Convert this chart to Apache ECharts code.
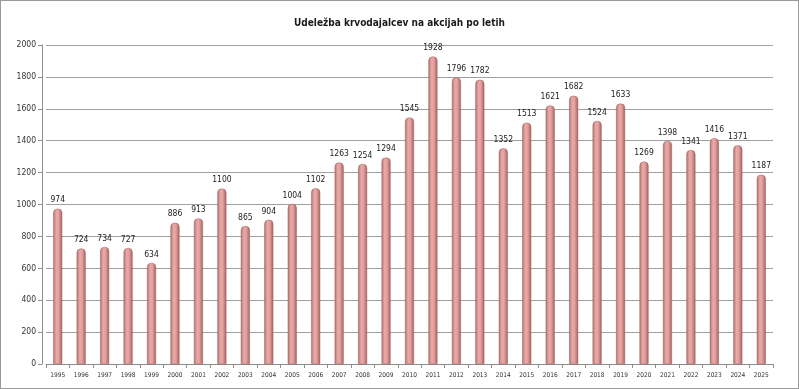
<!DOCTYPE html>
<html><head><meta charset="utf-8">
<script src="https://cdn.jsdelivr.net/npm/echarts@6/dist/echarts.min.js"></script>
<style>
html,body{margin:0;padding:0;background:#fff;}
#c{width:797px;height:387px;border:1px solid #9a9a9a;}
</style></head>
<body><div id="c"></div>
<script>
const title = 'Udeležba krvodajalcev na akcijah po letih';
const years = ['1995','1996','1997','1998','1999','2000','2001','2002','2003','2004','2005','2006','2007','2008','2009','2010','2011','2012','2013','2014','2015','2016','2017','2018','2019','2020','2021','2022','2023','2024','2025'];
const donors = [974,724,734,727,634,886,913,1100,865,904,1004,1102,1263,1254,1294,1545,1928,1796,1782,1352,1513,1621,1682,1524,1633,1269,1398,1341,1416,1371,1187];
const yTicks = [0,200,400,600,800,1000,1200,1400,1600,1800,2000];
const FONT = 'Liberation Sans Narrow, DejaVu Sans Condensed, sans-serif';

const chart = echarts.init(document.getElementById('c'), null, {renderer:'canvas'});
chart.setOption({
  animation:false,
  title:{text:title,left:'center',top:12,textStyle:{fontFamily:FONT,fontSize:10,fontWeight:'bold',color:'#1a1a1a'}},
  grid:{left:45,right:25,top:44,bottom:24},
  xAxis:{type:'category',data:years,
    axisLine:{lineStyle:{color:'#8c8c8c'}},
    axisTick:{show:true,lineStyle:{color:'#8c8c8c'},length:4},
    axisLabel:{fontFamily:FONT,fontSize:6.5,color:'#333',margin:8,interval:0}
  },
  yAxis:{type:'value',min:yTicks[0],max:yTicks[yTicks.length-1],interval:200,offset:4,
    axisLine:{show:true,lineStyle:{color:'#8c8c8c'}},
    axisTick:{show:true,lineStyle:{color:'#8c8c8c'},length:4},
    axisLabel:{fontFamily:FONT,fontSize:8.5,color:'#333',margin:6,formatter:v=>String(v)},
    splitLine:{lineStyle:{color:'#a0a0a0',width:1}}
  },
  series:[{type:'bar',data:donors,barWidth:9,
    itemStyle:{borderRadius:[4,4,0,0],color:new echarts.graphic.LinearGradient(0,0,1,0,[
      {offset:0,color:'#b0716f'},{offset:0.35,color:'#e8a9a7'},{offset:0.6,color:'#e3a09e'},{offset:1,color:'#a7605e'}]),
      borderColor:'#9c5f5d',borderWidth:0.5},
    label:{show:true,position:'top',distance:4,fontFamily:FONT,fontSize:8.5,color:'#222'}
  }]
});
</script></body></html>
